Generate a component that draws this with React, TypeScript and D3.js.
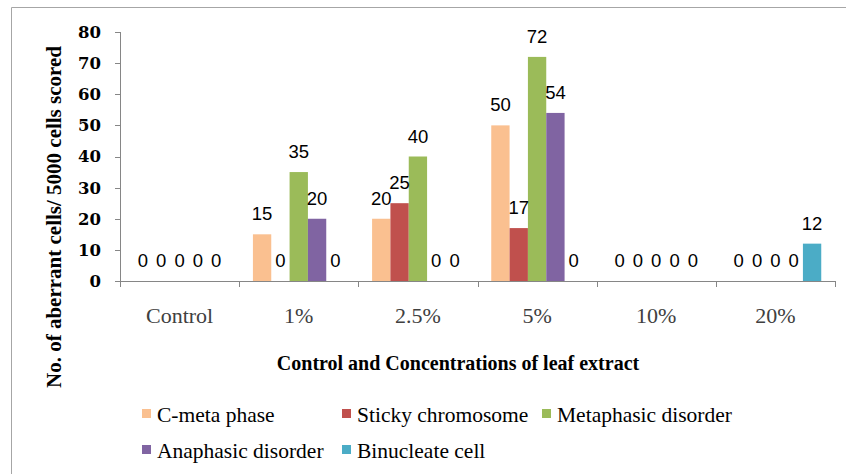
import React from 'react';
import * as d3 from 'd3';

// categories on the x axis
const categories = ['Control', '1%', '2.5%', '5%', '10%', '20%'];

// series values
const cMetaPhase = [0, 15, 20, 50, 0, 0];
const stickyChromosome = [0, 0, 25, 17, 0, 0];
const metaphasicDisorder = [0, 35, 40, 72, 0, 0];
const anaphasicDisorder = [0, 20, 0, 54, 0, 0];
const binucleateCell = [0, 0, 0, 0, 0, 12];

const seriesNames = ['C-meta phase', 'Sticky chromosome', 'Metaphasic disorder', 'Anaphasic disorder', 'Binucleate cell'];
const seriesColors = ['#FAC090', '#C0504D', '#9BBB59', '#8064A2', '#4BACC6'];
const yTicks = [0, 10, 20, 30, 40, 50, 60, 70, 80];

const series = [cMetaPhase, stickyChromosome, metaphasicDisorder, anaphasicDisorder, binucleateCell];

const W = 846;
const H = 474;
const margin = {top: 32, right: 11, bottom: 193, left: 120};

export default function App() {
  const x = d3
    .scaleBand()
    .domain(categories)
    .range([margin.left, W - margin.right]);
  // excel-ish gap width of 150%
  const xSub = d3
    .scaleBand()
    .domain(seriesNames)
    .range([0, x.bandwidth()])
    .paddingInner(0)
    .paddingOuter(0.75);
  const y = d3.scaleLinear().domain([0, 80]).range([H - margin.bottom, margin.top]);

  const axisColor = '#868686';
  const x0 = x.range()[0];
  const x1 = x.range()[1];
  const yBase = y(0);

  // legend laid out in columns, two rows
  const legendCols = 3;
  const legendColW = 200;
  const legendRowH = 36;

  return (
    <svg width={W} height={H} style={{position: 'absolute', left: 0, top: 0, display: 'block', background: '#fff'}}>
      {/* chart area border */}
      <line x1={11.5} y1={7.5} x2={W} y2={7.5} stroke="#a6a6a6" />
      <line x1={11.5} y1={7.5} x2={11.5} y2={H} stroke="#a6a6a6" />

      {/* bars */}
      {series.map((vals, si) => (
        <g key={seriesNames[si]}>
          {vals.map((v, ci) => {
            const bx = (x(categories[ci]) as number) + (xSub(seriesNames[si]) as number);
            return v > 0 ? (
              <rect
                key={ci}
                x={bx}
                y={y(v)}
                width={xSub.bandwidth()}
                height={yBase - y(v)}
                fill={seriesColors[si]}
              />
            ) : null;
          })}
        </g>
      ))}

      {/* y axis */}
      <line x1={x0 + 0.5} y1={y(80)} x2={x0 + 0.5} y2={yBase} stroke={axisColor} />
      {yTicks.map(t => (
        <g key={t}>
          <line x1={x0 - 5} y1={Math.round(y(t)) + 0.5} x2={x0} y2={Math.round(y(t)) + 0.5} stroke={axisColor} />
          <text
            x={x0 - 19}
            y={y(t)}
            dy="0.36em"
            textAnchor="end"
            fontFamily="DejaVu Serif"
            fontWeight="bold"
            fontSize={16.5}
            fill="#000">
            {t}
          </text>
        </g>
      ))}

      {/* x axis */}
      <line x1={x0} y1={yBase + 0.5} x2={x1} y2={yBase + 0.5} stroke={axisColor} />
      {categories.concat(['end']).map((c, i) => {
        const tx = i < categories.length ? (x(c) as number) : x1;
        return <line key={c} x1={Math.round(tx) + 0.5} y1={yBase} x2={Math.round(tx) + 0.5} y2={yBase + 6} stroke={axisColor} />;
      })}
      {categories.map(c => (
        <text
          key={c}
          x={(x(c) as number) + x.bandwidth() / 2}
          y={yBase + 42}
          textAnchor="middle"
          fontFamily="Liberation Serif"
          fontSize={22}
          fill="#404040">
          {c}
        </text>
      ))}

      {/* data labels */}
      {series.map((vals, si) =>
        vals.map((v, ci) => (
          <text
            key={si + '-' + ci}
            x={(x(categories[ci]) as number) + (xSub(seriesNames[si]) as number) + xSub.bandwidth() / 2}
            y={y(v) - 14}
            textAnchor="middle"
            fontFamily="Liberation Sans"
            fontSize={18.5}
            fill="#000">
            {v}
          </text>
        ))
      )}

      {/* axis titles */}
      <text
        x={458}
        y={370}
        textAnchor="middle"
        fontFamily="Liberation Serif"
        fontWeight="bold"
        fontSize={20}
        fill="#000">
        Control and Concentrations of leaf extract
      </text>
      <text
        transform={`translate(61,217) rotate(-90)`}
        textAnchor="middle"
        fontFamily="Liberation Serif"
        fontWeight="bold"
        fontSize={21}
        fill="#000">
        No. of aberrant cells/ 5000 cells scored
      </text>

      {/* legend */}
      {seriesNames.map((name, i) => {
        const col = i % legendCols;
        const row = Math.floor(i / legendCols);
        const lx = 142 + col * legendColW;
        const ly = 422 + row * legendRowH;
        return (
          <g key={name}>
            <rect x={lx} y={ly - 13} width={9} height={9} fill={seriesColors[i]} />
            <text x={lx + 15} y={ly} fontFamily="Liberation Serif" fontSize={21.5} fill="#000">
              {name}
            </text>
          </g>
        );
      })}
    </svg>
  );
}
